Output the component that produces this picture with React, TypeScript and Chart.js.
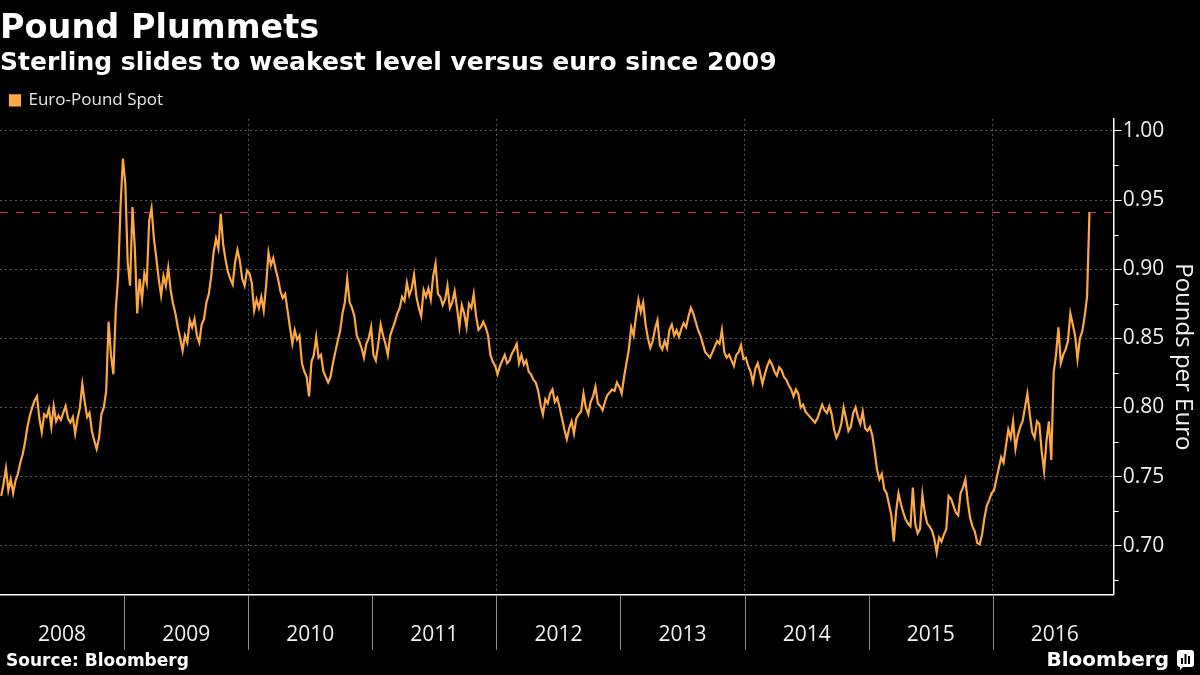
import React, { useEffect, useRef } from 'react';
import { Chart, registerables } from 'chart.js';

Chart.register(...registerables);

const TITLE = 'Pound Plummets';
const SUBTITLE = 'Sterling slides to weakest level versus euro since 2009';
const SERIES_LABEL = 'Euro-Pound Spot';
const Y_TITLE = 'Pounds per Euro';
const SOURCE = 'Source: Bloomberg';
const LOGO = 'Bloomberg';

const yearLabels = ['2008', '2009', '2010', '2011', '2012', '2013', '2014', '2015', '2016'];
const yTickValues = [0.7, 0.75, 0.8, 0.85, 0.9, 0.95, 1.0];
const yMinorTickValues = [0.675, 0.725, 0.775, 0.825, 0.875, 0.925, 0.975];

// Weekly EUR/GBP spot readings, one array per calendar year
const eurgbp2008 = [
  0.736, 0.745, 0.756, 0.740, 0.748, 0.738, 0.747, 0.752, 0.760, 0.766,
  0.775, 0.786, 0.794, 0.800, 0.805, 0.808, 0.792, 0.782, 0.795, 0.793,
  0.799, 0.786, 0.801, 0.790, 0.794, 0.791, 0.796, 0.801, 0.792, 0.789,
  0.793, 0.781, 0.792, 0.800, 0.817, 0.804, 0.793, 0.796, 0.783, 0.776,
  0.770, 0.778, 0.795, 0.800, 0.812, 0.862, 0.838, 0.824, 0.870, 0.895,
  0.945, 0.980,
];
const eurgbp2009 = [
  0.962, 0.905, 0.888, 0.945, 0.915, 0.868, 0.893, 0.878, 0.897, 0.890,
  0.935, 0.944, 0.922, 0.908, 0.893, 0.881, 0.895, 0.888, 0.901, 0.885,
  0.875, 0.868, 0.858, 0.850, 0.841, 0.852, 0.847, 0.863, 0.858, 0.864,
  0.852, 0.847, 0.860, 0.864, 0.876, 0.882, 0.895, 0.912, 0.922, 0.915,
  0.940, 0.918, 0.907, 0.898, 0.893, 0.889, 0.905, 0.914, 0.906, 0.893,
  0.888, 0.899,
];
const eurgbp2010 = [
  0.897, 0.890, 0.870, 0.878, 0.872, 0.880, 0.870, 0.888, 0.912, 0.903,
  0.908, 0.900, 0.893, 0.884, 0.879, 0.882, 0.870, 0.858, 0.846, 0.856,
  0.849, 0.852, 0.832, 0.826, 0.822, 0.808, 0.833, 0.838, 0.851, 0.836,
  0.838, 0.826, 0.822, 0.818, 0.822, 0.832, 0.840, 0.848, 0.855, 0.868,
  0.876, 0.893, 0.876, 0.872, 0.866, 0.852, 0.848, 0.843, 0.836, 0.846,
  0.850, 0.858,
];
const eurgbp2011 = [
  0.838, 0.834, 0.846, 0.860, 0.852, 0.846, 0.838, 0.852, 0.857, 0.862,
  0.868, 0.872, 0.880, 0.877, 0.890, 0.881, 0.886, 0.896, 0.880, 0.872,
  0.866, 0.885, 0.880, 0.886, 0.878, 0.895, 0.904, 0.882, 0.880, 0.874,
  0.878, 0.888, 0.872, 0.876, 0.884, 0.872, 0.858, 0.874, 0.868, 0.858,
  0.875, 0.872, 0.882, 0.866, 0.856, 0.858, 0.862, 0.858, 0.852, 0.838,
  0.833, 0.830,
];
const eurgbp2012 = [
  0.824, 0.830, 0.834, 0.838, 0.832, 0.834, 0.839, 0.842, 0.846, 0.832,
  0.838, 0.831, 0.834, 0.826, 0.824, 0.820, 0.818, 0.812, 0.802, 0.795,
  0.806, 0.803, 0.810, 0.813, 0.804, 0.807, 0.800, 0.792, 0.784, 0.777,
  0.785, 0.790, 0.781, 0.792, 0.795, 0.797, 0.810, 0.800, 0.795, 0.804,
  0.808, 0.815, 0.803, 0.801, 0.798, 0.804, 0.809, 0.811, 0.813, 0.812,
  0.818, 0.815,
];
const eurgbp2013 = [
  0.810, 0.822, 0.832, 0.842, 0.858, 0.852, 0.866, 0.878, 0.869, 0.876,
  0.860, 0.850, 0.843, 0.848, 0.857, 0.863, 0.845, 0.842, 0.848, 0.843,
  0.856, 0.860, 0.852, 0.856, 0.851, 0.857, 0.861, 0.858, 0.866, 0.872,
  0.868, 0.862, 0.856, 0.852, 0.846, 0.840, 0.838, 0.836, 0.840, 0.844,
  0.848, 0.846, 0.856, 0.840, 0.836, 0.838, 0.834, 0.830, 0.838, 0.840,
  0.845, 0.835,
];
const eurgbp2014 = [
  0.836, 0.830, 0.826, 0.818, 0.828, 0.832, 0.825, 0.817, 0.824, 0.830,
  0.834, 0.831, 0.826, 0.823, 0.829, 0.827, 0.822, 0.820, 0.816, 0.813,
  0.808, 0.813, 0.810, 0.800, 0.802, 0.797, 0.795, 0.793, 0.791, 0.789,
  0.792, 0.797, 0.802, 0.798, 0.796, 0.801, 0.795, 0.784, 0.778, 0.782,
  0.788, 0.800, 0.792, 0.783, 0.786, 0.796, 0.800, 0.793, 0.788, 0.797,
  0.785, 0.783,
];
const eurgbp2015 = [
  0.786, 0.780, 0.768, 0.755, 0.748, 0.752, 0.741, 0.738, 0.730, 0.722,
  0.703, 0.725, 0.738, 0.730, 0.724, 0.719, 0.716, 0.714, 0.742, 0.716,
  0.709, 0.712, 0.737, 0.724, 0.716, 0.714, 0.711, 0.705, 0.695, 0.706,
  0.703, 0.708, 0.712, 0.736, 0.734, 0.729, 0.724, 0.722, 0.738, 0.742,
  0.748, 0.732, 0.720, 0.714, 0.710, 0.702, 0.701, 0.708, 0.720, 0.729,
  0.733, 0.738,
];
const eurgbp2016 = [
  0.740, 0.748, 0.756, 0.764, 0.760, 0.772, 0.784, 0.778, 0.790, 0.770,
  0.780, 0.786, 0.790, 0.800, 0.810, 0.795, 0.782, 0.778, 0.790, 0.788,
  0.768, 0.754, 0.776, 0.790, 0.762, 0.825, 0.838, 0.858, 0.832, 0.838,
  0.842, 0.848, 0.868, 0.860, 0.852, 0.835, 0.850, 0.855, 0.866, 0.880,
  0.941,
];

const seriesByYear: number[][] = [
  eurgbp2008, eurgbp2009, eurgbp2010, eurgbp2011, eurgbp2012,
  eurgbp2013, eurgbp2014, eurgbp2015, eurgbp2016,
];

const X_MIN = 2008;
const X_MAX = 2016.974;
const Y_MIN = 0.6645;
const Y_MAX = 1.0087;

const LINE_COLOR = '#fba845';
const REF_COLOR = '#d8364e';
const GRID_COLOR = '#585858';
const TEXT_COLOR = '#f0f0f0';
const SEPARATOR_COLOR = '#8c8c8c';

function buildPoints() {
  const pts: { x: number; y: number }[] = [];
  seriesByYear.forEach((vals, yi) => {
    const year = Number(yearLabels[yi]);
    vals.forEach((v, i) => pts.push({ x: year + (i + 0.5) / 52, y: v }));
  });
  return pts;
}

const bgPlugin = {
  id: 'bg',
  beforeDraw(chart: any) {
    const { ctx, width, height } = chart;
    ctx.save();
    ctx.fillStyle = '#000';
    ctx.fillRect(0, 0, width, height);
    ctx.restore();
  },
};

const extrasPlugin = {
  id: 'extras',
  afterDraw(chart: any) {
    const { ctx, chartArea } = chart;
    const y = chart.scales.y;
    const x = chart.scales.x;
    ctx.save();
    // minor ticks on the right axis
    ctx.strokeStyle = '#ffffff';
    ctx.lineWidth = 1;
    yMinorTickValues.forEach((v) => {
      const py = Math.round(y.getPixelForValue(v)) + 0.5;
      ctx.beginPath();
      ctx.moveTo(chartArea.right, py);
      ctx.lineTo(chartArea.right + 5, py);
      ctx.stroke();
    });
    // year separators below the x axis
    ctx.strokeStyle = SEPARATOR_COLOR;
    yearLabels.forEach((yl) => {
      const yr = Number(yl);
      if (yr <= X_MIN) return;
      const px = Math.round(x.getPixelForValue(yr)) + 0.5;
      ctx.beginPath();
      ctx.moveTo(px, chartArea.bottom);
      ctx.lineTo(px, chartArea.bottom + 55);
      ctx.stroke();
    });
    // footer
    ctx.fillStyle = '#ffffff';
    ctx.textBaseline = 'alphabetic';
    ctx.textAlign = 'left';
    ctx.font = 'bold 17px "DejaVu Sans"';
    ctx.fillText(SOURCE, 6, 666);
    ctx.textAlign = 'right';
    ctx.font = 'bold 20px "DejaVu Sans"';
    ctx.fillText(LOGO, 1169, 666);
    // logo mark
    const lx = 1177, ly = 650, lw = 17, lh = 17;
    ctx.beginPath();
    ctx.moveTo(lx + 3, ly);
    ctx.lineTo(lx + lw - 3, ly);
    ctx.quadraticCurveTo(lx + lw, ly, lx + lw, ly + 3);
    ctx.lineTo(lx + lw, ly + lh - 3);
    ctx.quadraticCurveTo(lx + lw, ly + lh, lx + lw - 3, ly + lh);
    ctx.lineTo(lx + 6, ly + lh);
    ctx.lineTo(lx + 3, ly + lh + 3);
    ctx.lineTo(lx + 3, ly + lh);
    ctx.quadraticCurveTo(lx, ly + lh, lx, ly + lh - 3);
    ctx.lineTo(lx, ly + 3);
    ctx.quadraticCurveTo(lx, ly, lx + 3, ly);
    ctx.fill();
    ctx.fillStyle = '#000';
    ctx.fillRect(lx + 4, ly + 8, 2, 6);
    ctx.fillRect(lx + 7.5, ly + 4, 2, 10);
    ctx.fillRect(lx + 11, ly + 6, 2, 8);
    ctx.restore();
  },
};

export default function App() {
  const canvasRef = useRef<HTMLCanvasElement | null>(null);

  useEffect(() => {
    document.body.style.margin = '0';
    document.body.style.background = '#000';
    const canvas = canvasRef.current;
    if (!canvas) return;
    const points = buildPoints();
    const last = points[points.length - 1].y;

    const xTicks: number[] = [];
    yearLabels.forEach((yl) => {
      const yr = Number(yl);
      if (yr > X_MIN) xTicks.push(yr);
      xTicks.push(yr + 0.5);
    });

    const chart = new Chart(canvas, {
      type: 'line',
      data: {
        datasets: [
          {
            label: SERIES_LABEL,
            data: points,
            borderColor: LINE_COLOR,
            backgroundColor: LINE_COLOR,
            borderWidth: 2.2,
            pointRadius: 0,
            tension: 0,
            order: 1,
          },
          {
            label: '',
            data: [
              { x: X_MIN, y: last },
              { x: X_MAX, y: last },
            ],
            borderColor: REF_COLOR,
            borderWidth: 1,
            borderDash: [8, 8],
            pointRadius: 0,
            order: 2,
          },
        ],
      },
      options: {
        responsive: false,
        animation: false,
        devicePixelRatio: 1,
        layout: { padding: { left: 0, right: 0, top: 0, bottom: 9 } },
        plugins: {
          title: {
            display: true,
            text: TITLE,
            align: 'start',
            color: '#ffffff',
            font: { family: '"DejaVu Sans"', weight: 'bold', size: 33.5, lineHeight: 1.1 },
            padding: { top: 11, bottom: 0 },
          },
          subtitle: {
            display: true,
            text: SUBTITLE,
            align: 'start',
            color: '#ffffff',
            font: { family: '"DejaVu Sans"', weight: 'bold', size: 25, lineHeight: 1.2 },
            padding: { top: 1, bottom: 3 },
          },
          legend: {
            display: true,
            align: 'start',
            labels: {
              color: '#e6e6e6',
              boxWidth: 10,
              boxHeight: 10,
              padding: 10,
              font: { family: '"Open Sans"', size: 17 },
              filter: (item: any) => item.datasetIndex === 0,
            },
          },
          tooltip: { enabled: false },
        },
        scales: {
          x: {
            type: 'linear',
            min: X_MIN,
            max: X_MAX,
            afterBuildTicks: (scale: any) => {
              scale.ticks = xTicks.map((v) => ({ value: v }));
            },
            ticks: {
              autoSkip: false,
              maxRotation: 0,
              padding: 18,
              color: TEXT_COLOR,
              font: { family: '"Open Sans"', size: 21 },
              callback: (value: any) => {
                const v = Number(value);
                return Math.abs(v - Math.floor(v) - 0.5) < 0.01 ? String(Math.floor(v)) : '';
              },
            },
            grid: {
              drawOnChartArea: true,
              drawTicks: true,
              tickLength: 10,
              lineWidth: 1,
              color: (ctx: any) => {
                const v = ctx.tick ? ctx.tick.value : 0;
                return Number.isInteger(v) && v % 2 === 0 ? GRID_COLOR : 'rgba(0,0,0,0)';
              },
              tickColor: 'rgba(0,0,0,0)',
              tickBorderDash: [],
            },
            border: { display: true, color: '#ffffff', width: 1.5, dash: [2, 3] },
          },
          y: {
            type: 'linear',
            position: 'right',
            min: Y_MIN,
            max: Y_MAX,
            afterBuildTicks: (scale: any) => {
              scale.ticks = yTickValues.map((v) => ({ value: v }));
            },
            ticks: {
              padding: 1,
              color: TEXT_COLOR,
              font: { family: '"Open Sans"', size: 21 },
              callback: (value: any) => Number(value).toFixed(2),
            },
            grid: {
              drawOnChartArea: true,
              drawTicks: true,
              tickLength: 8,
              color: GRID_COLOR,
              tickColor: '#ffffff',
              tickBorderDash: [],
            },
            border: { display: true, color: '#ffffff', width: 1.5, dash: [2, 3] },
            title: {
              display: true,
              text: Y_TITLE,
              color: TEXT_COLOR,
              font: { family: '"Open Sans"', size: 24, lineHeight: 1.2 },
              padding: { top: 3, bottom: 3 },
            },
          },
        },
      } as any,
      plugins: [bgPlugin, extrasPlugin],
    });

    return () => chart.destroy();
  }, []);

  return (
    <div style={{ width: 1200, height: 675, background: '#000' }}>
      <canvas ref={canvasRef} width={1200} height={675} style={{ display: 'block' }} />
    </div>
  );
}
